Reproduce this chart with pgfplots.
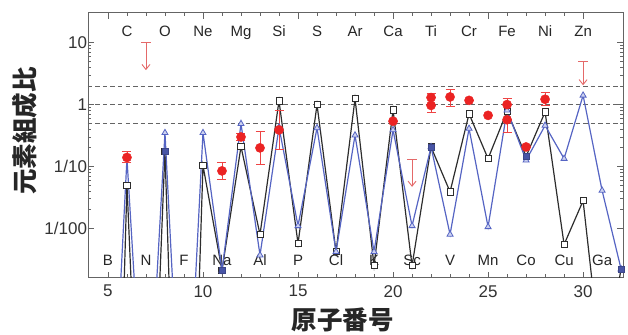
\documentclass[border=0pt]{standalone}
\usepackage{fontspec}
\setmainfont{Liberation Sans}
\newfontfamily\cjk{Noto Sans CJK JP}
\usepackage{pgfplots}
\pgfplotsset{compat=1.18}
\usetikzlibrary{arrows.meta,calc}
\definecolor{blk}{RGB}{45,45,45}
\definecolor{blu}{RGB}{85,100,195}
\definecolor{blufill}{RGB}{205,210,240}
\definecolor{red1}{RGB}{235,35,35}
\definecolor{limred}{RGB}{228,105,105}
\definecolor{axgray}{RGB}{100,100,100}
\begin{document}
\begin{tikzpicture}
\begin{axis}[
  width=535pt, height=265pt, scale only axis,
  xmin=3.95, xmax=32.1, ymode=log, ymin=0.0016, ymax=30.5,
  xtick={5,10,...,30}, minor x tick num=4,
  ytick={0.01,0.1,1,10}, yticklabels={1/100,1/10,1,10},
  tick align=inside, major tick length=6pt, minor tick length=3.5pt,
  axis line style={axgray, line width=0.9pt},
  every tick/.style={axgray, line width=0.8pt},
  /pgf/number format/assume math mode=true,
  ticklabel style={font=\fontsize{17}{17}\selectfont, text=black!80},
  xticklabel style={yshift=-4pt},
  yticklabel style={xshift=2.5pt},
  xlabel={\cjk\bfseries 原子番号}, ylabel={\cjk\bfseries 元素組成比},
  label style={font=\fontsize{25.5}{25.5}\selectfont, text=black!85},
  xlabel style={at={(axis description cs:0.476,-0.16)}, anchor=center},
  ylabel style={at={(axis description cs:-0.118,0.553)}, anchor=center},
  clip=true,
]
% dashed reference lines
\addplot[axgray, line width=0.9pt, dash pattern=on 4.5pt off 3pt] coordinates {(3.95,2) (32.1,2)};
\addplot[axgray, line width=0.9pt, dash pattern=on 4.5pt off 3pt] coordinates {(3.95,1) (32.1,1)};
\addplot[axgray, line width=0.9pt, dash pattern=on 4.5pt off 3pt] coordinates {(3.95,0.5) (32.1,0.5)};
% element labels
\foreach \z/\n in {6/C,8/O,10/Ne,12/Mg,14/Si,16/S,18/Ar,20/Ca,22/Ti,24/Cr,26/Fe,28/Ni,30/Zn}{
  \edef\tmp{\noexpand\node[anchor=base, inner sep=0pt, font=\noexpand\fontsize{15}{15}\noexpand\selectfont, text=black!85] at (axis cs:\z,12.6) {\n};}\tmp
}
\foreach \z/\n in {5/B,7/N,9/F,11/Na,13/Al,15/P,17/Cl,19/K,21/Sc,23/V,25/Mn,27/Co,29/Cu,31/Ga}{
  \edef\tmp{\noexpand\node[anchor=base, inner sep=0pt, font=\noexpand\fontsize{15}{15}\noexpand\selectfont, text=black!85] at (axis cs:\z,0.00252) {\n};}\tmp
}
% black series
\addplot[blk, line width=1.2pt, mark=square*, mark size=3.1pt, mark options={fill=white, line width=0.8pt}] coordinates {
(5,1e-12) (6,0.05) (7,4e-9) (8,0.178) (9,3e-11) (10,0.104) (11,0.0021) (12,0.21)
(13,0.008) (14,1.15) (15,0.0057) (16,1.0) (17,0.0042) (18,1.25) (19,0.0025) (20,0.82)
(21,0.0025) (22,0.207) (23,0.039) (24,0.71) (25,0.134) (26,0.78) (27,0.146) (28,0.76)
(29,0.0055) (30,0.028) (31,5e-5) (32,0.0022)
};
% blue series
\addplot[blu, line width=1.2pt, mark=triangle*, mark size=3.5pt, mark options={fill=blufill, line width=0.8pt}] coordinates {
(5,1.3e-7) (6,0.135) (7,1.1e-6) (8,0.35) (9,3.5e-7) (10,0.35) (11,0.0021) (12,0.49)
(13,0.0037) (14,0.43) (15,0.011) (16,0.42) (17,0.0042) (18,0.32) (19,0.0042) (20,0.39)
(21,0.011) (22,0.207) (23,0.008) (24,0.41) (25,0.0106) (26,0.81) (27,0.126) (28,0.46)
(29,0.134) (30,1.41) (31,0.041) (32,0.0022)
};
% coinciding points shown as filled squares
\addplot[only marks, mark=square*, mark size=3.1pt, draw=blu!70!black, fill=blu!85!black] coordinates {
(8,0.178) (11,0.0021) (22,0.207) (27,0.146) (32,0.0022)
};
% red measurements with error bars
\addplot[only marks, red1, mark=*, mark size=4.6pt,
  error bars/.cd, y dir=both, y explicit,
  error bar style={red1!85, line width=0.9pt},
  error mark options={red1!85, line width=0.9pt, mark size=4.5pt, rotate=90}] coordinates {
(6,0.14) += (0,0.038) -= (0,0.022)
(11,0.085) += (0,0.031) -= (0,0.024)
(12,0.30) += (0,0.04) -= (0,0.04)
(13,0.20) += (0,0.17) -= (0,0.09)
(14,0.39) += (0,0.40) -= (0,0.20)
(20,0.54) += (0,0) -= (0,0)
(22,1.30) += (0,0.20) -= (0,0)
(22,0.97) += (0,0) -= (0,0.21)
(23,1.33) += (0,0.42) -= (0,0.39)
(24,1.17) += (0,0) -= (0,0)
(25,0.67) += (0,0) -= (0,0)
(26,1.0) += (0,0.25) -= (0,0)
(26,0.57) += (0,0) -= (0,0.21)
(27,0.207) += (0,0) -= (0,0)
(28,1.22) += (0,0.38) -= (0,0.25)
};
% upper limits
\addplot[limred, line width=0.9pt, -{Straight Barb[length=5pt,width=8pt]}] coordinates {(7,10) (7,3.6)};
\addplot[limred, line width=0.9pt] coordinates {(6.75,10) (7.25,10)};
\addplot[limred, line width=0.9pt, -{Straight Barb[length=5pt,width=8pt]}] coordinates {(21,0.129) (21,0.047)};
\addplot[limred, line width=0.9pt] coordinates {(20.75,0.129) (21.25,0.129)};
\addplot[limred, line width=0.9pt, -{Straight Barb[length=5pt,width=8pt]}] coordinates {(30,5.0) (30,2.05)};
\addplot[limred, line width=0.9pt] coordinates {(29.75,5.0) (30.25,5.0)};
\end{axis}
\pgfresetboundingbox
\path ($(current axis.south west)+(-88pt,-56.3pt)$) rectangle ($(current axis.north east)+(5pt,12.7pt)$);
\end{tikzpicture}
\end{document}
